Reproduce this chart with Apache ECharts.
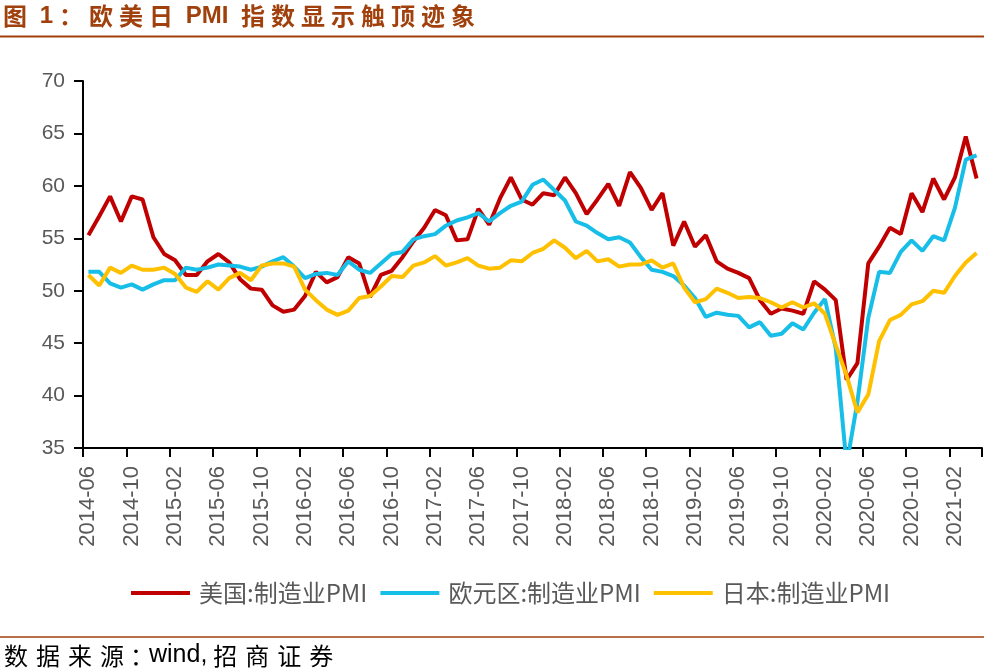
<!DOCTYPE html>
<html>
<head>
<meta charset="utf-8">
<script src="https://cdn.jsdelivr.net/npm/echarts@6/dist/echarts.min.js"></script>
<style>
html,body{margin:0;padding:0;background:#fff;}
#chart{width:984px;height:672px;}
</style>
</head>
<body>
<div id="chart"></div>
<script>
const titleText = '图 1：欧美日 PMI 指数显示触顶迹象';
const sourceText = '数据来源：wind,招商证券';
const seriesNames = ['美国:制造业PMI', '欧元区:制造业PMI', '日本:制造业PMI'];

const months = [
 '2014-06','2014-07','2014-08','2014-09','2014-10','2014-11','2014-12',
 '2015-01','2015-02','2015-03','2015-04','2015-05','2015-06','2015-07','2015-08','2015-09','2015-10','2015-11','2015-12',
 '2016-01','2016-02','2016-03','2016-04','2016-05','2016-06','2016-07','2016-08','2016-09','2016-10','2016-11','2016-12',
 '2017-01','2017-02','2017-03','2017-04','2017-05','2017-06','2017-07','2017-08','2017-09','2017-10','2017-11','2017-12',
 '2018-01','2018-02','2018-03','2018-04','2018-05','2018-06','2018-07','2018-08','2018-09','2018-10','2018-11','2018-12',
 '2019-01','2019-02','2019-03','2019-04','2019-05','2019-06','2019-07','2019-08','2019-09','2019-10','2019-11','2019-12',
 '2020-01','2020-02','2020-03','2020-04','2020-05','2020-06','2020-07','2020-08','2020-09','2020-10','2020-11','2020-12',
 '2021-01','2021-02','2021-03','2021-04'
];

const usPMI = [
 55.3,57.1,59.0,56.6,59.0,58.7,55.1,
 53.5,52.9,51.5,51.5,52.8,53.5,52.7,51.1,50.2,50.1,48.6,48.0,
 48.2,49.5,51.8,50.8,51.3,53.2,52.6,49.4,51.5,51.9,53.2,54.7,
 56.0,57.7,57.2,54.8,54.9,57.8,56.3,58.8,60.8,58.7,58.2,59.3,
 59.1,60.8,59.3,57.3,58.7,60.2,58.1,61.3,59.8,57.7,59.3,54.3,
 56.6,54.2,55.3,52.8,52.1,51.7,51.2,49.1,47.8,48.3,48.1,47.8,
 50.9,50.1,49.1,41.5,43.1,52.6,54.2,56.0,55.4,59.3,57.5,60.7,
 58.7,60.8,64.7,60.7
];

const euroPMI = [
 51.8,51.8,50.7,50.3,50.6,50.1,50.6,
 51.0,51.0,52.2,52.0,52.2,52.5,52.4,52.3,52.0,52.3,52.8,53.2,
 52.3,51.2,51.6,51.7,51.5,52.8,52.0,51.7,52.6,53.5,53.7,54.9,
 55.2,55.4,56.2,56.7,57.0,57.4,56.6,57.4,58.1,58.5,60.1,60.6,
 59.6,58.6,56.6,56.2,55.5,54.9,55.1,54.6,53.2,52.0,51.8,51.4,
 50.5,49.3,47.5,47.9,47.7,47.6,46.5,47.0,45.7,45.9,46.9,46.3,
 47.9,49.2,44.5,33.4,39.4,47.4,51.8,51.7,53.7,54.8,53.8,55.2,
 54.8,57.9,62.5,62.9
];

const japanPMI = [
 51.5,50.5,52.2,51.7,52.4,52.0,52.0,
 52.2,51.6,50.3,49.9,50.9,50.1,51.2,51.7,51.0,52.4,52.6,52.6,
 52.3,50.1,49.1,48.2,47.7,48.1,49.3,49.5,50.4,51.4,51.3,52.4,
 52.7,53.3,52.4,52.7,53.1,52.4,52.1,52.2,52.9,52.8,53.6,54.0,
 54.8,54.1,53.1,53.8,52.8,53.0,52.3,52.5,52.5,52.9,52.2,52.6,
 50.3,48.9,49.2,50.2,49.8,49.3,49.4,49.3,48.9,48.4,48.9,48.4,
 48.8,47.8,44.8,41.9,38.4,40.1,45.2,47.2,47.7,48.7,49.0,50.0,
 49.8,51.4,52.7,53.6
];

const colors = ['#C00000', '#16BEE8', '#FFC000'];

// letter-spaced rich text: CJK chars get side padding, latin runs stay together
function spaced(str, narrowColon) {
  let out = '';
  let latin = '';
  for (const ch of str) {
    if (/[\u3000-\u9fff\uff00-\uffef]/.test(ch)) {
      if (latin) { out += '{l|' + latin + '}'; latin = ''; }
      out += (narrowColon && ch === '：') ? '{p|' + ch + '}' : '{c|' + ch + '}';
    } else {
      latin += ch;
    }
  }
  if (latin) out += '{l|' + latin + '}';
  return out;
}

const chart = echarts.init(document.getElementById('chart'));
const axisColor = '#000000';
const labelColor = '#595959';
const brown = '#A0400C';

chart.setOption({
  backgroundColor: '#ffffff',
  animation: false,
  title: [{
    text: spaced(titleText, false),
    left: 0, top: 4, padding: 0,
    textStyle: {
      rich: {
        c: { fontFamily: 'Noto Sans CJK SC', fontWeight: 'bold', fontSize: 24, color: brown, padding: [0, 3, 0, 3] },
        l: { fontFamily: 'Liberation Sans', fontWeight: 'bold', fontSize: 24, color: brown, padding: [0, 3, 0, 3] }
      }
    }
  }, {
    text: spaced(sourceText, true),
    left: 0, top: 643, padding: 0,
    textStyle: {
      rich: {
        c: { fontFamily: 'Noto Sans CJK SC', fontWeight: 'normal', fontSize: 24, color: '#000000', padding: [0, 4, 0, 4] },
        p: { fontFamily: 'Noto Sans CJK SC', fontWeight: 'normal', fontSize: 24, color: '#000000', width: 17, padding: [0, 0, 0, 2] },
        l: { fontFamily: 'Liberation Sans', fontWeight: 'normal', fontSize: 25, color: '#000000', padding: [0, 2, 0, 2] }
      }
    }
  }],
  graphic: [
    { type: 'line', shape: { x1: 0, y1: 36.5, x2: 984, y2: 36.5 }, style: { stroke: brown, lineWidth: 2 } },
    { type: 'line', shape: { x1: 0, y1: 637, x2: 984, y2: 637 }, style: { stroke: brown, lineWidth: 1.5 } }
  ],
  legend: {
    left: 131, top: 581, padding: 0,
    icon: 'rect',
    itemWidth: 59, itemHeight: 4,
    itemGap: 13,
    textStyle: { fontFamily: 'Noto Sans CJK SC', fontSize: 24, color: labelColor, padding: [0, 0, 0, 4] },
    data: seriesNames
  },
  grid: { left: 83, right: 2, top: 81, bottom: 224, containLabel: false },
  xAxis: {
    type: 'category',
    data: months,
    boundaryGap: true,
    axisLine: { lineStyle: { color: axisColor, width: 2 } },
    axisTick: { show: true, interval: 3, length: 9, lineStyle: { color: axisColor, width: 2 } },
    axisLabel: { interval: 3, rotate: 90, margin: 18, fontSize: 22, fontFamily: 'Liberation Sans', color: labelColor },
    splitLine: { show: false }
  },
  yAxis: {
    type: 'value',
    min: 35, max: 70, interval: 5,
    axisLine: { show: true, lineStyle: { color: axisColor, width: 2 } },
    axisTick: { show: true, length: 9, lineStyle: { color: axisColor, width: 2 } },
    axisLabel: { margin: 18, fontSize: 21, fontFamily: 'Liberation Sans', color: labelColor },
    splitLine: { show: false }
  },
  series: [
    { name: seriesNames[0], type: 'line', data: usPMI, symbol: 'none', color: colors[0], lineStyle: { width: 4, color: colors[0] }, clip: true },
    { name: seriesNames[1], type: 'line', data: euroPMI, symbol: 'none', color: colors[1], lineStyle: { width: 4, color: colors[1] }, clip: true },
    { name: seriesNames[2], type: 'line', data: japanPMI, symbol: 'none', color: colors[2], lineStyle: { width: 4, color: colors[2] }, clip: true }
  ]
});
</script>
</body>
</html>
